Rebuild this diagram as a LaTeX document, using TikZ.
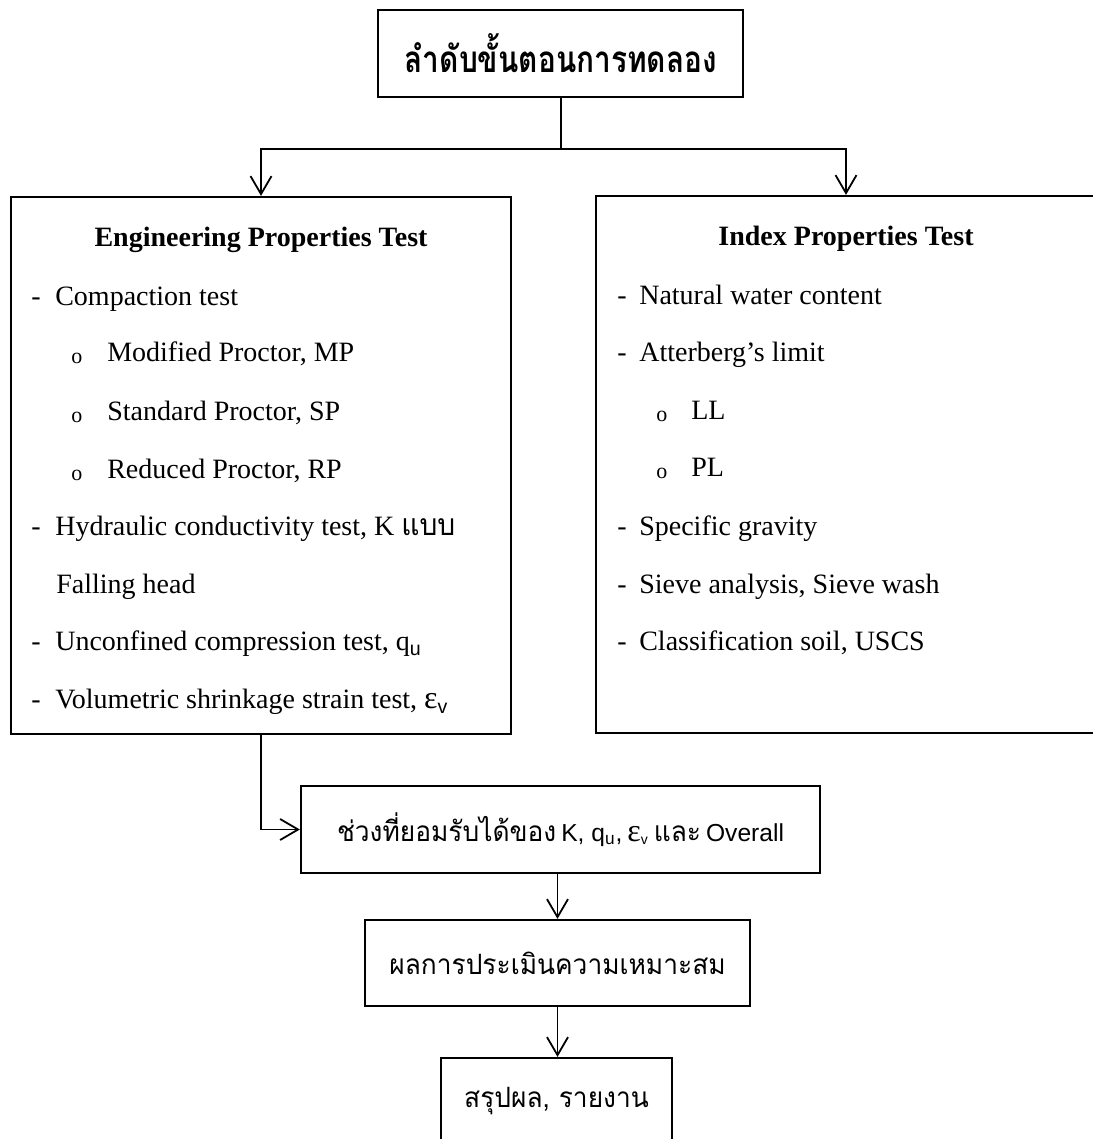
\documentclass[tikz,border=0pt]{standalone}
\usepackage{fontspec}
\setmainfont{Liberation Serif}
\newfontfamily\thai[Script=Thai,FakeStretch=0.94]{Loma}
\newfontfamily\thaihead[Script=Thai,FakeStretch=0.81]{Loma}
\newfontfamily\labelsans{Liberation Sans}
\usetikzlibrary{arrows.meta,calc}

% one unit = one pixel of the 1092 x 1139 layout, y grows downward
\tikzset{
  box/.style={draw, line width=1.1pt, inner sep=0pt},
  link/.style={line width=0.9pt},
  flow/.style={link, -{Straight Barb[length=9pt,width=10.5pt,line width=0.9pt]}},
  head/.style={anchor=base, inner sep=0pt, font=\fontsize{14}{16}\selectfont\bfseries},
  item/.style={anchor=base west, inner sep=0pt, font=\fontsize{14}{16}\selectfont},
  bulletdot/.style={anchor=base west, inner sep=0pt, font=\fontsize{11}{12}\selectfont},
  thaitext/.style={font=\thai\fontsize{14}{16}\selectfont},
}
\newcommand{\epsv}{{\fontsize{16}{16}\selectfont ε}\textsubscript{\labelsans v}}

\begin{document}
\begin{tikzpicture}[x=0.5pt,y=-0.5pt]
\useasboundingbox (0,0) rectangle (1092,1139);

% ---- headline box ----
\node[box, minimum width=182.5pt, minimum height=43.3pt,
      font=\thaihead\bfseries\fontsize{18.4}{20}\selectfont] (title) at (560.8,53.4)
      {ลำดับขั้นตอนการทดลอง};

% ---- two property groups ----
\node[box, minimum width=250pt, minimum height=268.5pt] (eng) at (261,465.5) {};
\node[box, minimum width=250pt, minimum height=268.5pt] (idx) at (846,464.5) {};

% engineering properties
\node[head] (engh) at ($(eng.north)+(0,51)$) {Engineering Properties Test};
\node[item] (ed1) at ($(eng.north west)+(21,110)$) {-};
\node[item] (e1) at ($(eng.north west)+(45,110)$) {Compaction test};
\node[bulletdot] (eo1) at ($(eng.north west)+(61,168)$) {o};
\node[item] (e2) at ($(eng.north west)+(97,166)$) {Modified Proctor, MP};
\node[bulletdot] (eo2) at ($(eng.north west)+(61,227)$) {o};
\node[item] (e3) at ($(eng.north west)+(97,225)$) {Standard Proctor, SP};
\node[bulletdot] (eo3) at ($(eng.north west)+(61,285)$) {o};
\node[item] (e4) at ($(eng.north west)+(97,283)$) {Reduced Proctor, RP};
\node[item] (ed4) at ($(eng.north west)+(21,340)$) {-};
\node[item] (e5) at ($(eng.north west)+(45,340)$)
      {Hydraulic conductivity test, K {\thai\fontsize{15}{16}\selectfont แบบ}};
\node[item] (e6) at ($(eng.north west)+(46,398)$) {Falling head};
\node[item] (ed6) at ($(eng.north west)+(21,455)$) {-};
\node[item] (e7) at ($(eng.north west)+(45,455)$)
      {Unconfined compression test, q\textsubscript{\labelsans u}};
\node[item] (ed7) at ($(eng.north west)+(21,513)$) {-};
\node[item] (e8) at ($(eng.north west)+(45,513)$)
      {Volumetric shrinkage strain test, \epsv};

% index properties
\node[head] (idxh) at ($(idx.north)+(0,51)$) {Index Properties Test};
\node[item] (id1) at ($(idx.north west)+(22,110)$) {-};
\node[item] (i1) at ($(idx.north west)+(44,110)$) {Natural water content};
\node[item] (id2) at ($(idx.north west)+(22,167)$) {-};
\node[item] (i2) at ($(idx.north west)+(44,167)$) {Atterberg’s limit};
\node[bulletdot] (io3) at ($(idx.north west)+(61,227)$) {o};
\node[item] (i3) at ($(idx.north west)+(96,225)$) {LL};
\node[bulletdot] (io4) at ($(idx.north west)+(61,284)$) {o};
\node[item] (i4) at ($(idx.north west)+(96,282)$) {PL};
\node[item] (id5) at ($(idx.north west)+(22,341)$) {-};
\node[item] (i5) at ($(idx.north west)+(44,341)$) {Specific gravity};
\node[item] (id6) at ($(idx.north west)+(22,399)$) {-};
\node[item] (i6) at ($(idx.north west)+(44,399)$) {Sieve analysis, Sieve wash};
\node[item] (id7) at ($(idx.north west)+(22,456)$) {-};
\node[item] (i7) at ($(idx.north west)+(44,456)$) {Classification soil, USCS};

% ---- evaluation chain ----
\node[box, minimum width=259.5pt, minimum height=43.5pt] (acc) at (560.5,829.5)
      {{\thai\fontsize{14}{16}\selectfont ช่วงที่ยอมรับได้ของ}
       {\labelsans\fontsize{12.3}{13}\selectfont K, q\textsubscript{u},}
       \epsv{} {\thai\fontsize{14}{16}\selectfont และ}
       {\labelsans\fontsize{12.3}{13}\selectfont Overall}};
\node[box, minimum width=192.5pt, minimum height=43pt, thaitext] (eval) at (557.5,963)
      {ผลการประเมินความเหมาะสม};
\node[box, minimum width=115.5pt, minimum height=43pt, thaitext] (concl) at (556.5,1101)
      {สรุปผล, รายงาน};

% ---- connectors ----
\draw[link] (title.south) -- ++(0,51) coordinate (split);
\draw[flow] (split) -| (eng.north);
\draw[flow] (split) -| (idx.north);
\draw[flow] (eng.south) |- (acc.west);
\draw[flow] (eval.north |- acc.south) -- (eval.north);
\draw[flow] (eval.south) -- (eval.south |- concl.north);
\end{tikzpicture}
\end{document}
